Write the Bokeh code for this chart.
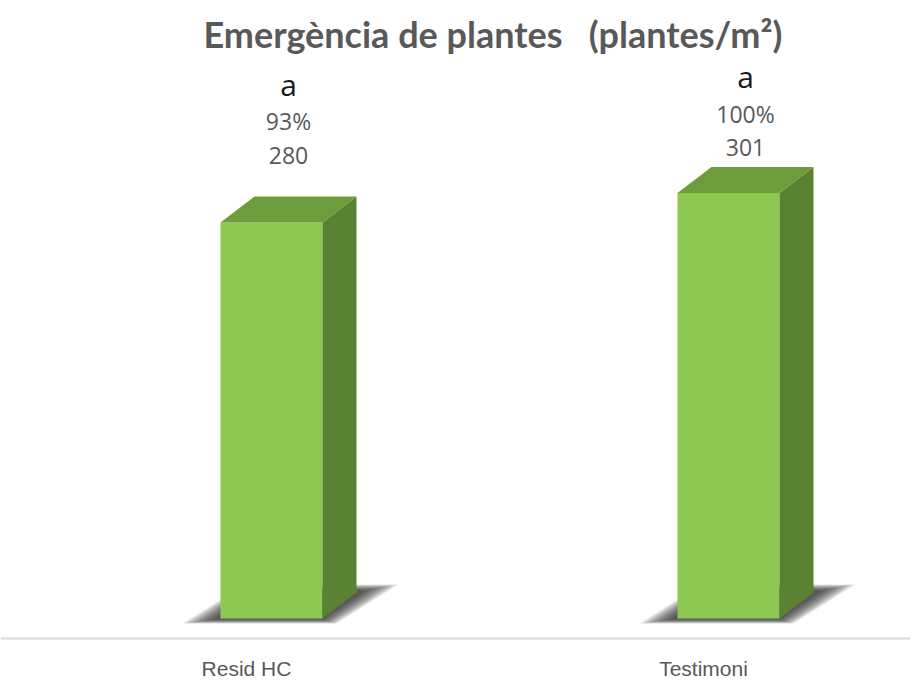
from bokeh.plotting import figure
from bokeh.models import Range1d, Span, Label, ColumnDataSource
from bokeh.core.properties import value
from bokeh.embed import file_html
from bokeh.resources import INLINE

# ---- data ----
categories = ["Resid HC", "Testimoni"]
plants_m2 = [280, 301]
pct_labels = ["93%", "100%"]
sig_letters = ["a", "a"]
title_text = "Emergència de plantes\u00a0\u00a0 (plantes/m²)"

# ---- geometry ----
W, H = 910, 682
PX_X = 457.0           # pixels per category unit
PX_Y = 1.414           # pixels per plant/m2
bar_w = 102 / PX_X     # front face width
depth_x = 34 / PX_X    # 3D depth, horizontal
depth_y = 26 / PX_Y    # 3D depth, vertical

p = figure(width=W, height=H, output_backend="svg", toolbar_location=None,
           x_range=Range1d(-271 / PX_X, (W - 271) / PX_X),
           y_range=Range1d(-(H - 618) / PX_Y, 618 / PX_Y),
           min_border=0, outline_line_color=None, background_fill_color="white",
           border_fill_color="white")
p.axis.visible = False
p.xgrid.visible = False
p.ygrid.visible = False

front_c = "#8DC951"
top_c = "#6C9C3B"
side_c = "#5A8232"

xs = list(range(len(categories)))
vmax = max(plants_m2)

# baseline
p.add_layout(Span(location=-20 / PX_Y, dimension="width", line_color="#D9D9D9", line_width=2))

# soft shadows at the base of each bar (layered for a blur effect)
def px(dx, dy):
    return dx / PX_X, dy / PX_Y

n = 12
for i in xs:
    l = i - bar_w / 2
    r = i + bar_w / 2
    corners = [(l, 0), (r, 0), (r + depth_x, depth_y), (l + depth_x, depth_y)]
    outer = [(-38, -5), (14, -5), (42, 8), (-10, 8)]
    core = [(-6, -1), (0, -1), (8, 2), (0, 2)]
    for k in range(n):
        t = k / (n - 1)
        sx, sy = [], []
        for (cx, cy), (ox, oy), (qx, qy) in zip(corners, outer, core):
            ddx, ddy = px(ox + (qx - ox) * t, oy + (qy - oy) * t)
            sx.append(cx + ddx)
            sy.append(cy + ddy)
        p.patch(sx, sy, fill_color="#1A1A1A", fill_alpha=0.1, line_color=None)

# bars: front, side, top
fs = ColumnDataSource(dict(x=xs, top=plants_m2))
p.vbar(x="x", top="top", bottom=0, width=bar_w, source=fs, fill_color=front_c, line_color=None)
for i, v in zip(xs, plants_m2):
    r = i + bar_w / 2
    l = i - bar_w / 2
    p.patch([r, r + depth_x, r + depth_x, r], [0, depth_y, v + depth_y, v],
            fill_color=side_c, line_color=None)
    p.patch([l, r, r + depth_x, l + depth_x], [v, v, v + depth_y, v + depth_y],
            fill_color=top_c, line_color=None)

# labels above bars
lab_x = [i + depth_x / 2 for i in xs]
row = 34 / PX_Y
base = [(v + 3 * vmax) / 4 + 32 for v in plants_m2]
p.text(x=lab_x, y=base, text=[str(v) for v in plants_m2], text_align="center",
       text_baseline="middle", text_font=value("Open Sans"), text_font_size="23px",
       text_color="#595959")
p.text(x=lab_x, y=[b + row for b in base], text=pct_labels, text_align="center",
       text_baseline="middle", text_font=value("Open Sans"), text_font_size="23px",
       text_color="#595959")
p.text(x=lab_x, y=[b + 2 * row + 2 for b in base], text=sig_letters, text_align="center",
       text_baseline="middle", text_font=value("Open Sans"), text_font_size="30px",
       text_color="#1A1A1A")

# category labels
p.text(x=[i - 25 / PX_X for i in xs], y=[-50 / PX_Y] * len(xs), text=categories,
       text_align="center", text_baseline="middle", text_font=value("Liberation Sans"),
       text_font_size="21px", text_color="#595959")

# title
p.add_layout(Label(x=203, y=H - 33, x_units="screen", y_units="screen", text=title_text,
                   text_font="Lato", text_font_style="bold", text_font_size="36px",
                   text_color="#595959", text_baseline="middle", text_align="left"))

open("out.html", "w").write(file_html(p, INLINE))
